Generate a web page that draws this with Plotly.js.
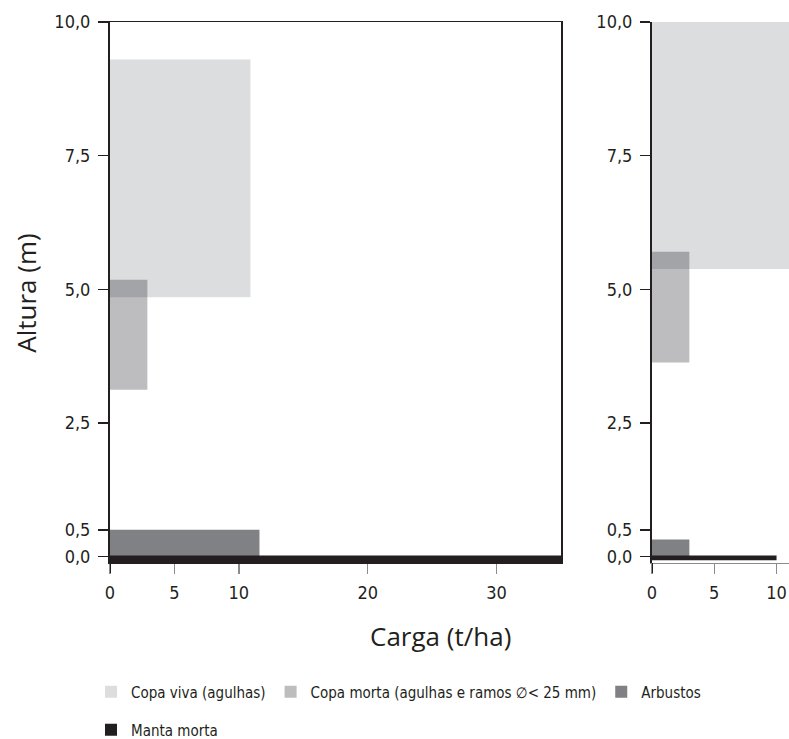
<!DOCTYPE html>
<html>
<head>
<meta charset="utf-8">
<script src="https://cdn.plot.ly/plotly-3.0.1.min.js"></script>
<style>html,body{margin:0;padding:0;background:#fff;}#chart{width:789px;height:739px;}</style>
</head>
<body>
<div id="chart"></div>
<script>
// Series (fuel layers)
const seriesNames = ['Copa viva (agulhas)', 'Copa morta (agulhas e ramos \u2205< 25 mm)', 'Arbustos', 'Manta morta'];
const seriesColors = ['#dcdddf', 'rgba(0,0,8,0.26)', '#808184', '#231f20'];
const seriesLegend = ['legend', 'legend', 'legend', 'legend2'];

// Left panel: load (t/ha), layer bottom and top heights (m)
const loadLeft   = [10.9, 2.9, 11.6, 35];
const bottomLeft = [4.85, 3.12, 0, -0.12];
const topLeft    = [9.3, 5.18, 0.5, 0.02];

// Right panel
const loadRight   = [12, 3.0, 3.0, 10.0];
const bottomRight = [5.38, 3.63, 0, -0.07];
const topRight    = [10, 5.7, 0.32, 0.02];

// Ticks
const yTickVals = [0, 0.5, 2.5, 5, 7.5, 10];
const yTickText = ['0,0', '0,5', '2,5', '5,0', '7,5', '10,0'];
const xTickLeft = [0, 5, 10, 20, 30];
const xTickRight = [0, 5, 10];

const xTitle = 'Carga (t/ha)';
const yTitle = 'Altura (m)';

const narrow = '"DejaVu Sans Condensed", "Liberation Sans Narrow", sans-serif';
const txt = '#231f20';

const traces = [];
const panels = [
  {load: loadLeft, bottom: bottomLeft, top: topLeft, xa: 'x', ya: 'y'},
  {load: loadRight, bottom: bottomRight, top: topRight, xa: 'x2', ya: 'y2'}
];
panels.forEach((p, pi) => {
  seriesNames.forEach((name, i) => {
    traces.push({
      type: 'bar', orientation: 'h',
      x: [p.load[i]],
      y: [(p.bottom[i] + p.top[i]) / 2],
      width: [p.top[i] - p.bottom[i]],
      base: 0,
      name: name,
      legend: seriesLegend[i],
      legendgroup: 'g' + i,
      showlegend: pi === 0,
      marker: {color: seriesColors[i], line: {width: 0}},
      xaxis: p.xa, yaxis: p.ya,
      hoverinfo: 'x+name'
    });
  });
});

const H = 739, W = 789, mt = 22, mb = 175.5, ml = 110, mr = 0;
const ph = H - mt - mb, pw = W - ml - mr;
const py = v => -(v - (H - mb)) / ph; // pixel y -> paper y
const px = v => (v - ml) / pw;        // pixel x -> paper x
const cy = v => 1 - v / H;            // pixel y -> container y
const cx = v => v / W;                // pixel x -> container x

const yBase = {
  range: [-0.12, 10], tickvals: yTickVals, ticktext: yTickText,
  ticks: 'outside', ticklen: 10, tickwidth: 1.5, tickcolor: txt,
  showline: true, linecolor: txt, linewidth: 2,
  showgrid: false, zeroline: false, ticklabelstandoff: 4,
  tickfont: {family: narrow, size: 18, color: txt}
};
const xBase = {
  ticks: 'outside', ticklen: 10, tickwidth: 1.5, tickcolor: '#8a8b8d',
  showgrid: false, zeroline: false, showline: true, linewidth: 1, ticklabelstandoff: 3,
  tickfont: {family: narrow, size: 18, color: txt}
};
const legBase = {
  orientation: 'h', xref: 'container', yref: 'container', xanchor: 'left', yanchor: 'middle',
  font: {family: narrow, size: 15, color: txt},
  bgcolor: 'rgba(0,0,0,0)', borderwidth: 0, traceorder: 'normal', itemclick: false
};

const layout = {
  width: W, height: H,
  margin: {l: ml, r: mr, t: mt, b: mb, pad: 0},
  paper_bgcolor: '#fff', plot_bgcolor: '#fff',
  barmode: 'overlay',
  showlegend: true,
  xaxis: Object.assign({}, xBase, {domain: [0, px(561)], range: [0, 35], tickvals: xTickLeft, ticktext: xTickLeft.map(String), linecolor: txt, mirror: true, anchor: 'y'}),
  yaxis: Object.assign({}, yBase, {anchor: 'x', mirror: true}),
  xaxis2: Object.assign({}, xBase, {domain: [px(652), 1], range: [0, 11], tickvals: xTickRight, ticktext: xTickRight.map(String), linecolor: '#8a8b8d', mirror: false, anchor: 'y2'}),
  yaxis2: Object.assign({}, yBase, {anchor: 'x2', mirror: false}),
  legend: Object.assign({}, legBase, {x: cx(91), y: cy(692)}),
  legend2: Object.assign({}, legBase, {x: cx(91), y: cy(730)}),
  annotations: [
    {text: xTitle, xref: 'paper', yref: 'paper', x: px(440.5), y: py(637), xanchor: 'center', yanchor: 'middle', showarrow: false,
     font: {family: '"Open Sans", sans-serif', size: 26, color: txt}},
    {text: yTitle, xref: 'paper', yref: 'paper', x: px(26), y: py(294), xanchor: 'center', yanchor: 'middle', textangle: -90, showarrow: false,
     font: {family: '"Open Sans", sans-serif', size: 26, color: txt}}
  ],
  shapes: [
    {type: 'line', xref: 'x', yref: 'paper', x0: 0, x1: 0, y0: 0, y1: -10 / ph, line: {color: txt, width: 2}},
    {type: 'line', xref: 'x2', yref: 'paper', x0: 0, x1: 0, y0: 0, y1: -10 / ph, line: {color: txt, width: 2}}
  ]
};

Plotly.newPlot('chart', traces, layout, {displayModeBar: false, staticPlot: true});
</script>
</body>
</html>
